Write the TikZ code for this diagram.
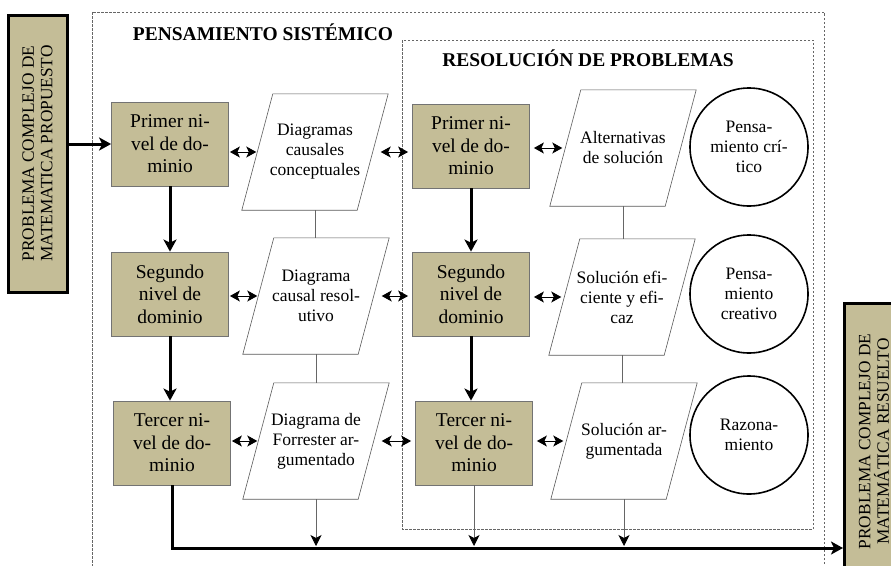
\documentclass[tikz,border=0pt]{standalone}
\usepackage{fontspec}
\setmainfont{Liberation Serif}
\usetikzlibrary{arrows.meta}
\definecolor{arena}{HTML}{C4BD97}
\tikzset{
  nivel/.style={draw=black!55, fill=arena, line width=0.8pt, minimum width=117pt, minimum height=84pt, inner sep=2pt, align=center, font=\fontsize{19.5}{22.5}\selectfont},
  diagrama/.style={minimum width=115pt, minimum height=116pt, inner sep=0pt, align=center, font=\fontsize{17.5}{20}\selectfont},
  paralelo/.style={draw=black!65, line width=0.6pt},
  habilidad/.style={circle, draw, line width=1.6pt, minimum size=118pt, inner sep=0pt, align=center, font=\fontsize{17.5}{20}\selectfont},
  problema/.style={draw, fill=arena, line width=3pt, rotate=90, minimum width=277pt, minimum height=59pt, inner sep=0pt, align=center, font=\fontsize{17.3}{18.5}\selectfont},
  titulo/.style={font=\fontsize{19.5}{22}\selectfont\bfseries},
  marco/.style={draw=black!60, line width=0.6pt, dash pattern=on 2.5pt off 1.5pt},
  grueso/.style={line width=3pt, -{Stealth[length=12pt,width=13pt,inset=3pt]}},
  doble/.style={line width=1pt, {Stealth[length=10pt,width=11pt,inset=2.5pt]}-{Stealth[length=10pt,width=11pt,inset=2.5pt]}, shorten <=1pt, shorten >=1pt},
  delgada/.style={draw=black!60, line width=0.7pt},
  flecha/.style={delgada, -{Stealth[length=11pt,width=11pt,inset=3pt,color=black]}, shorten >=2pt}
}
\begin{document}
\begin{tikzpicture}[x=1pt,y=-1pt]
	\useasboundingbox (0,0) rectangle (891,565);
	\clip (0,0) rectangle (891,565);
	% marcos
	\draw[marco] (92,12) rectangle (824,600); % pensamiento sistemico
	\draw[marco] (402,40) rectangle (813,529); % resolucion de problemas
	\node[titulo] (tituloPS) at (263,32) {PENSAMIENTO SISTÉMICO};
	\node[titulo] (tituloRP) at (588,58) {RESOLUCIÓN DE PROBLEMAS};
	% problemas (entrada y salida)
	\node[problema] (prob) at (37.5,153.5) {PROBLEMA COMPLEJO DE\\MATEMATICA PROPUESTO};
	\node[problema] (res) at (874,441.5) {PROBLEMA COMPLEJO DE\\MATEMÁTICA RESUELTO};
	% niveles de dominio
	\node[nivel] (pA1) at (170,144) {Primer ni-\\vel de do-\\minio};
	\node[nivel] (pA2) at (170,294) {Segundo\\nivel de\\dominio};
	\node[nivel] (pA3) at (172,443) {Tercer ni-\\vel de do-\\minio};
	\node[nivel] (pB1) at (471,146) {Primer ni-\\vel de do-\\minio};
	\node[nivel] (pB2) at (471,294) {Segundo\\nivel de\\dominio};
	\node[nivel] (pB3) at (474,443) {Tercer ni-\\vel de do-\\minio};
	% diagramas
	\node[diagrama] (dA1) at (315,152) {Diagramas\\causales\\conceptuales};
	\node[diagrama] (dA2) at (316,296) {Diagrama\\causal resol-\\utivo};
	\node[diagrama] (dA3) at (316,441) {Diagrama de\\Forrester ar-\\gumentado};
	\node[diagrama] (dB1) at (623,148) {Alternativas\\de solución};
	\node[diagrama] (dB2) at (622,297) {Solución efi-\\ciente y efi-\\caz};
	\node[diagrama] (dB3) at (624,441) {Solución ar-\\gumentada};
	\foreach \d in {dA1,dA2,dA3,dB1,dB2,dB3}
		\draw[paralelo] ([xshift=15.5pt]\d.north west) -- ([xshift=15.5pt]\d.north east)
			-- ([xshift=-15.5pt]\d.south east) -- ([xshift=-15.5pt]\d.south west) -- cycle;
	% habilidades
	\node[habilidad] (hC1) at (749,147) {Pensa-\\miento crí-\\tico};
	\node[habilidad] (hC2) at (749,294) {Pensa-\\miento\\creativo};
	\node[habilidad] (hC3) at (749,435) {Razona-\\miento};
	\coordinate (fin) at (0,548);
	% flechas gruesas
	\draw[grueso] (prob.south |- pA1.west) -- (pA1.west);
	\draw[grueso] (pA1.south) -- (pA1.south |- pA2.north);
	\draw[grueso] (pA2.south) -- (pA2.south |- pA3.north);
	\draw[grueso] (pB1.south) -- (pB1.south |- pB2.north);
	\draw[grueso] (pB2.south) -- (pB2.south |- pB3.north);
	\draw[grueso] (pA3.south) |- (res.north |- fin);
	% flechas dobles
	\foreach \f in {1,2,3} {
		\draw[doble] (pA\f.east |- dA\f.west) -- (dA\f.west);
		\draw[doble, shorten <=8pt, shorten >=4pt] (dA\f.east) -- (dA\f.east -| pB\f.west);
		\draw[doble, shorten <=4pt, shorten >=3pt] (pB\f.east |- dB\f.west) -- (dB\f.west);
	}
	% uniones entre diagramas
	\draw[delgada] (dA1.south) -- (dA1.south |- dA2.north);
	\draw[delgada] (dA2.south) -- (dA2.south |- dA3.north);
	\draw[delgada] (dB1.south) -- (dB1.south |- dB2.north);
	\draw[delgada] (dB2.south) -- (dB2.south |- dB3.north);
	% flechas finas a la salida
	\draw[flecha] (dA3.south) -- (dA3.south |- fin);
	\draw[flecha] (pB3.south) -- (pB3.south |- fin);
	\draw[flecha] (dB3.south) -- (dB3.south |- fin);
\end{tikzpicture}
\end{document}
